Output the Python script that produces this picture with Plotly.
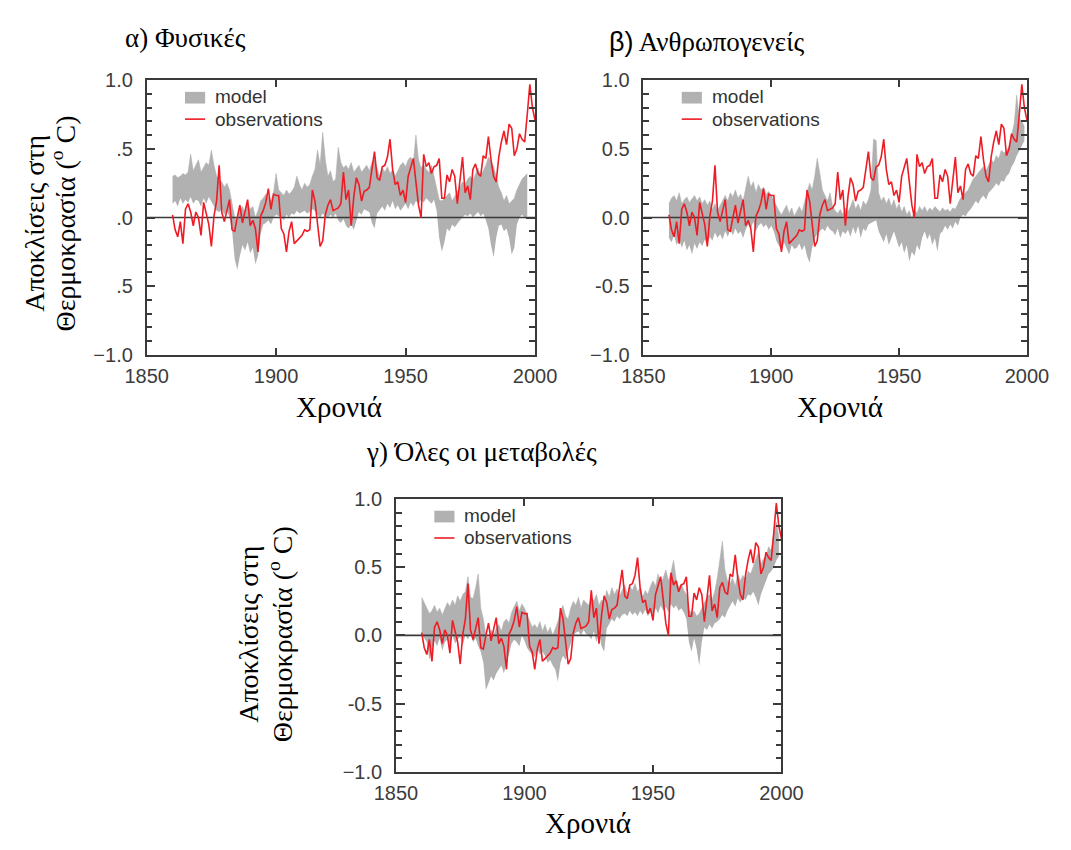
import plotly.graph_objects as go

# ---------------- data ----------------
obs_years = list(range(1860, 2001))
observations = [
    0.02, -0.09, -0.14, -0.03, -0.19, 0.06, 0.10, 0.04, -0.06, 0.04,
    0.00, -0.13, 0.11, 0.02, -0.05, -0.21, 0.01, 0.12, 0.38, 0.04,
    -0.03, 0.05, 0.13, -0.09, -0.10, 0.00, 0.09, -0.04, 0.04, 0.13,
    -0.06, -0.02, -0.08, -0.25, 0.01, 0.05, 0.11, 0.21, 0.06, 0.17,
    0.16, 0.16, -0.08, -0.12, -0.25, -0.10, -0.03, -0.19, -0.17, -0.15,
    -0.13, -0.09, -0.10, -0.09, 0.20, 0.12, -0.07, -0.21, -0.17, 0.02,
    0.09, 0.13, 0.05, 0.06, 0.07, 0.10, 0.33, 0.13, 0.20, -0.06,
    0.15, 0.29, 0.24, 0.12, 0.19, 0.20, 0.22, 0.35, 0.48, 0.29,
    0.27, 0.37, 0.38, 0.44, 0.57, 0.35, 0.24, 0.26, 0.16, 0.20,
    0.11, 0.30, 0.36, 0.43, 0.26, 0.09, 0.00, 0.46, 0.37, 0.40,
    0.32, 0.37, 0.38, 0.43, 0.14, 0.14, 0.31, 0.26, 0.35, 0.30,
    0.10, 0.26, 0.44, 0.18, 0.23, 0.13, 0.35, 0.39, 0.32, 0.30,
    0.45, 0.43, 0.59, 0.42, 0.30, 0.26, 0.44, 0.55, 0.63, 0.53,
    0.68, 0.65, 0.45, 0.50, 0.61, 0.57, 0.55, 0.75, 0.97, 0.80,
    0.71,
]

# (a) natural forcing model range, 1860-1997
nat_years = list(range(1860, 1998))
nat_low = [
    0.10, 0.12, 0.08, 0.14, 0.10, 0.13, 0.11, 0.15, 0.10, 0.13,
    0.12, 0.08, 0.14, 0.10, 0.15, 0.12, 0.08, 0.05, 0.04, 0.06,
    0.02, 0.05, 0.00, -0.10, -0.30, -0.38, -0.28, -0.20, -0.24, -0.18,
    -0.26, -0.22, -0.34, -0.28, -0.12, -0.05, -0.04, -0.02, -0.05, 0.00,
    0.02, 0.01, 0.00, -0.02, 0.02, 0.00, 0.03, 0.02, 0.05, 0.03,
    0.04, 0.05, 0.03, 0.04, 0.06, 0.05, 0.02, 0.00, 0.03, 0.01,
    0.00, 0.02, 0.00, 0.03, -0.02, -0.04, -0.01, -0.06, -0.08, -0.05,
    -0.09, -0.03, 0.04, 0.02, 0.06, 0.05, 0.04, -0.04, -0.08, 0.03,
    0.06, 0.08, 0.05, 0.10, 0.07, 0.12, 0.06, 0.09, 0.05, 0.08,
    0.10, 0.06, 0.11, 0.08, 0.12, 0.10, 0.13, 0.11, 0.14, 0.12,
    0.10, 0.13, 0.05, -0.15, -0.25, -0.18, -0.08, -0.10, -0.05, -0.07,
    -0.04, -0.02, 0.00, 0.02, 0.01, 0.03, 0.00, 0.02, 0.04, 0.01,
    0.03, -0.02, -0.08, -0.20, -0.29, -0.15, -0.06, -0.05, -0.10, -0.08,
    -0.15, -0.27, -0.22, -0.05, 0.00, 0.02, 0.00, 0.01,
]
nat_high = [
    0.30, 0.31, 0.29, 0.30, 0.32, 0.31, 0.33, 0.46, 0.34, 0.38,
    0.42, 0.33, 0.36, 0.40, 0.38, 0.49, 0.38, 0.30, 0.27, 0.26,
    0.22, 0.25, 0.20, 0.10, 0.00, -0.03, 0.05, 0.08, 0.03, 0.10,
    0.06, 0.08, 0.00, 0.05, 0.12, 0.14, 0.17, 0.15, 0.12, 0.18,
    0.32, 0.20, 0.18, 0.16, 0.20, 0.17, 0.19, 0.22, 0.30, 0.24,
    0.20, 0.25, 0.22, 0.24, 0.30, 0.35, 0.49, 0.38, 0.62, 0.42,
    0.30, 0.34, 0.26, 0.28, 0.51, 0.40, 0.36, 0.38, 0.35, 0.40,
    0.33, 0.36, 0.38, 0.33, 0.36, 0.38, 0.34, 0.40, 0.42, 0.35,
    0.30, 0.36, 0.33, 0.37, 0.32, 0.35, 0.30, 0.34, 0.38, 0.40,
    0.37, 0.42, 0.44, 0.40, 0.60, 0.42, 0.36, 0.39, 0.35, 0.33,
    0.38, 0.30, 0.22, 0.13, 0.12, 0.14, 0.16, 0.18, 0.12, 0.15,
    0.18, 0.22, 0.26, 0.24, 0.28, 0.30, 0.27, 0.32, 0.36, 0.30,
    0.34, 0.38, 0.44, 0.40, 0.37, 0.30, 0.22, 0.18, 0.12, 0.16,
    0.10, 0.12, 0.14, 0.20, 0.24, 0.28, 0.30, 0.32,
]

# (b) anthropogenic forcing model range, 1860-1999
ant_years = list(range(1860, 2000))
ant_low = [
    -0.15, -0.18, -0.13, -0.20, -0.16, -0.22, -0.17, -0.24, -0.20, -0.27,
    -0.19, -0.23, -0.18, -0.21, -0.16, -0.20, -0.14, -0.17, -0.11, -0.15,
    -0.12, -0.16, -0.10, -0.14, -0.09, -0.13, -0.08, -0.12, -0.10, -0.15,
    -0.09, -0.05, -0.08, -0.03, -0.10, -0.06, -0.04, -0.07, -0.05, -0.09,
    -0.06, -0.10, -0.17, -0.20, -0.24, -0.18, -0.22, -0.27, -0.20, -0.23,
    -0.22, -0.19, -0.24, -0.20, -0.28, -0.33, -0.22, -0.15, -0.12, -0.10,
    -0.08, -0.10, -0.06, -0.09, -0.10, -0.13, -0.08, -0.15, -0.10, -0.12,
    -0.09, -0.14, -0.07, -0.12, -0.06, -0.15, -0.08, -0.10, -0.05, -0.04,
    -0.03, -0.02, -0.10, -0.14, -0.18, -0.12, -0.20, -0.15, -0.10, -0.16,
    -0.22, -0.18, -0.26, -0.20, -0.32, -0.25, -0.28, -0.20, -0.24, -0.15,
    -0.10, -0.16, -0.12, -0.20, -0.15, -0.25, -0.12, -0.10, -0.06, -0.09,
    -0.05, -0.08, -0.03, -0.06, 0.00, 0.02, 0.01, 0.04, 0.06, 0.09,
    0.12, 0.10, 0.14, 0.16, 0.13, 0.18, 0.20, 0.22, 0.25, 0.23,
    0.27, 0.26, 0.30, 0.32, 0.37, 0.40, 0.45, 0.48, 0.52, 0.56,
]
ant_high = [
    0.10, 0.14, 0.16, 0.12, 0.18, 0.10, 0.13, 0.15, 0.11, 0.14,
    0.16, 0.12, 0.15, 0.10, 0.13, 0.09, 0.12, 0.06, 0.10, 0.05,
    0.09, 0.13, 0.16, 0.12, 0.18, 0.15, 0.20, 0.14, 0.17, 0.12,
    0.20, 0.30, 0.22, 0.26, 0.18, 0.24, 0.20, 0.22, 0.17, 0.19,
    0.16, 0.12, 0.08, 0.05, 0.02, 0.06, 0.09, 0.03, 0.07, 0.01,
    0.05, 0.08, 0.04, 0.12, 0.18, 0.25, 0.20, 0.30, 0.43, 0.32,
    0.20, 0.16, 0.12, 0.18, 0.08, 0.05, 0.03, 0.06, 0.02, 0.07,
    0.04, 0.08, 0.13, 0.06, 0.10, 0.05, 0.12, 0.09, 0.13, 0.20,
    0.57, 0.56, 0.18, 0.12, 0.15, 0.10, 0.14, 0.08, 0.13, 0.06,
    0.10, 0.04, 0.08, 0.02, 0.05, -0.01, 0.06, 0.03, 0.08, 0.05,
    0.08, 0.04, 0.07, 0.05, 0.08, 0.06, 0.04, 0.07, 0.05, 0.06,
    0.04, 0.07, 0.06, 0.10, 0.14, 0.16, 0.18, 0.20, 0.24, 0.28,
    0.30, 0.33, 0.35, 0.37, 0.34, 0.38, 0.42, 0.40, 0.45, 0.43,
    0.49, 0.47, 0.48, 0.52, 0.60, 0.68, 0.89, 0.72, 0.70, 0.66,
]

# (c) all forcings model range, 1860-1999
all_years = list(range(1860, 2000))
all_low = [
    0.00, -0.02, -0.05, -0.18, -0.10, -0.04, -0.08, -0.02, -0.11, -0.05,
    -0.03, -0.08, 0.00, -0.06, -0.03, -0.01, -0.07, 0.00, -0.03, 0.01,
    -0.05, -0.02, -0.08, -0.12, -0.20, -0.40, -0.35, -0.30, -0.33, -0.28,
    -0.25, -0.22, -0.28, -0.20, -0.14, -0.06, -0.03, -0.05, -0.08, 0.00,
    -0.04, -0.09, -0.12, -0.14, -0.16, -0.10, -0.14, -0.12, -0.15, -0.20,
    -0.18, -0.22, -0.25, -0.34, -0.20, -0.15, -0.18, -0.12, -0.05, 0.00,
    0.02, 0.03, 0.00, 0.04, 0.01, 0.00, -0.03, 0.03, -0.05, 0.02,
    -0.08, -0.12, 0.05, 0.09, 0.12, 0.10, 0.14, 0.12, 0.15, 0.16,
    0.14, 0.18, 0.15, 0.17, 0.14, 0.18, 0.15, 0.19, 0.14, 0.17,
    0.15, 0.20, 0.16, 0.22, 0.18, 0.21, 0.17, 0.23, 0.20, 0.22,
    0.18, 0.20, 0.17, 0.12, -0.05, -0.12, -0.02, -0.10, -0.22, -0.05,
    0.06, 0.04, 0.08, 0.05, 0.09, 0.10, 0.12, 0.15, 0.13, 0.18,
    0.22, 0.25, 0.21, 0.27, 0.24, 0.28, 0.26, 0.30, 0.29, 0.32,
    0.28, 0.22, 0.30, 0.35, 0.40, 0.45, 0.47, 0.50, 0.55, 0.58,
]
all_high = [
    0.28, 0.24, 0.20, 0.16, 0.18, 0.22, 0.17, 0.20, 0.15, 0.19,
    0.24, 0.21, 0.26, 0.22, 0.29, 0.25, 0.30, 0.32, 0.43, 0.28,
    0.27, 0.35, 0.45, 0.20, 0.12, 0.00, -0.02, 0.04, 0.00, 0.05,
    0.08, 0.03, 0.10, 0.12, 0.09, 0.17, 0.21, 0.25, 0.18, 0.23,
    0.20, 0.15, 0.10, 0.06, 0.08, 0.05, 0.10, 0.03, 0.08, 0.02,
    0.06, 0.00, 0.05, 0.10, 0.18, 0.22, 0.14, 0.12, 0.20, 0.25,
    0.22, 0.28, 0.20, 0.26, 0.24, 0.22, 0.28, 0.25, 0.30, 0.22,
    0.26, 0.24, 0.33, 0.28, 0.35, 0.30, 0.34, 0.29, 0.33, 0.37,
    0.30, 0.36, 0.33, 0.38, 0.32, 0.35, 0.28, 0.33, 0.30, 0.36,
    0.40, 0.36, 0.45, 0.38, 0.42, 0.48, 0.40, 0.46, 0.55, 0.42,
    0.35, 0.38, 0.33, 0.30, 0.19, 0.16, 0.18, 0.14, 0.16, 0.20,
    0.24, 0.28, 0.30, 0.26, 0.32, 0.42, 0.55, 0.69, 0.48, 0.40,
    0.38, 0.42, 0.36, 0.45, 0.40, 0.44, 0.41, 0.47, 0.45, 0.50,
    0.55, 0.61, 0.52, 0.56, 0.58, 0.65, 0.62, 0.75, 0.83, 0.72,
]

SANS = "Liberation Sans, Arial, sans-serif"
SERIF = "Liberation Serif, Times New Roman, serif"

panel_titles = [
    "α) Φυσικές",
    f"<span style='font-family:{SANS}'>β)</span> Ανθρωπογενείς",
    "γ) Όλες οι μεταβολές",
]
x_title = "Χρονιά"
y_title_lines = ["Αποκλίσεις στη", "Θερμοκρασία (<sup>o</sup> C)"]
legend_labels = ["model", "observations"]
x_tickvals = [1850, 1900, 1950, 2000]
y_tickvals = [-1.0, -0.5, 0.0, 0.5, 1.0]
y_ticktext_a = ["−1.0", ".5", ".0", ".5", "1.0"]
y_ticktext_bc = ["−1.0", "-0.5", "0.0", "0.5", "1.0"]
X_RANGE = [1850, 2000]
Y_RANGE = [-1.0, 1.0]

# ---------------- style ----------------
W, H = 1071, 850
GRAY = "#b1b1b1"
RED = "#ee1c25"
AXC = "#3a3a3a"


def px_x(p):
    return p / W


def px_y(p):
    return 1 - p / H


# plot boxes in pixels (left, right, top, bottom)
boxes = [(130, 535, 71, 353), (648, 1048, 71, 353), (390, 792, 501, 781)]
bands = [(nat_years, nat_low, nat_high), (ant_years, ant_low, ant_high),
         (all_years, all_low, all_high)]

fig = go.Figure()

for i, (yrs, lo, hi) in enumerate(bands):
    xa = "x" if i == 0 else f"x{i+1}"
    ya = "y" if i == 0 else f"y{i+1}"
    fig.add_trace(go.Scatter(x=yrs, y=lo, mode="lines", line=dict(width=0, color=GRAY),
                             xaxis=xa, yaxis=ya, showlegend=False, hoverinfo="skip"))
    fig.add_trace(go.Scatter(x=yrs, y=hi, mode="lines", line=dict(width=0.6, color=GRAY),
                             fill="tonexty", fillcolor=GRAY,
                             xaxis=xa, yaxis=ya, showlegend=False, hoverinfo="skip"))
    # zero reference line
    fig.add_trace(go.Scatter(x=X_RANGE, y=[0, 0], mode="lines", line=dict(width=1.6, color=AXC),
                             xaxis=xa, yaxis=ya, showlegend=False, hoverinfo="skip"))
    fig.add_trace(go.Scatter(x=obs_years, y=observations, mode="lines",
                             line=dict(width=1.6, color=RED),
                             xaxis=xa, yaxis=ya, showlegend=False, hoverinfo="skip"))

layout = dict(
    width=W, height=H, margin=dict(l=0, r=0, t=0, b=0),
    paper_bgcolor="white", plot_bgcolor="white", showlegend=False,
)

for i, (l, r, t, b) in enumerate(boxes):
    xk = "xaxis" if i == 0 else f"xaxis{i+1}"
    yk = "yaxis" if i == 0 else f"yaxis{i+1}"
    ya_name = "y" if i == 0 else f"y{i+1}"
    xa_name = "x" if i == 0 else f"x{i+1}"
    layout[xk] = dict(
        domain=[px_x(l), px_x(r)], range=X_RANGE, anchor=ya_name,
        tickvals=x_tickvals, ticks="inside", ticklen=7, tickwidth=1.5, tickcolor=AXC,
        showline=True, linecolor=AXC, linewidth=1.6, mirror="ticks",
        showgrid=False, zeroline=False, ticklabelstandoff=2,
        tickfont=dict(family=SANS, size=20, color="#3c3c3c"),
    )
    layout[yk] = dict(
        domain=[px_y(b), px_y(t)], range=Y_RANGE, anchor=xa_name,
        tickvals=y_tickvals, ticktext=(y_ticktext_a if i == 0 else y_ticktext_bc),
        ticks="inside", ticklen=9, tickwidth=1.5, tickcolor=AXC,
        minor=dict(dtick=0.1, tick0=0, ticks="inside", ticklen=6, tickwidth=1.5, tickcolor=AXC),
        showline=True, linecolor=AXC, linewidth=1.6, mirror="ticks",
        showgrid=False, zeroline=False, ticklabelstandoff=8,
        tickfont=dict(family=SANS, size=20, color="#3c3c3c"),
    )

fig.update_layout(**layout)

annotations = []
shapes = []
# panel titles
title_pos = [(171, 28), (714, 32), (479, 453)]
for txt, (cx, cy) in zip(panel_titles, title_pos):
    annotations.append(dict(text=txt, x=px_x(cx), y=px_y(cy), xref="paper", yref="paper",
                            xanchor="center", yanchor="middle", showarrow=False,
                            font=dict(family=SERIF, size=27, color="black")))
# x titles
xt_pos = [(331, 407), (853, 407), (590, 834)]
for (cx, cy) in xt_pos:
    annotations.append(dict(text=x_title, x=px_x(cx), y=px_y(cy), xref="paper", yref="paper",
                            xanchor="center", yanchor="middle", showarrow=False,
                            font=dict(family=SERIF, size=29, color="black")))
# y titles (panels a and c), one annotation per line
yt_pos = [((13, 43), 218), ((236, 270), 640)]
for (cxs, cy) in yt_pos:
    for line_txt, cx in zip(y_title_lines, cxs):
        annotations.append(dict(text=line_txt, x=px_x(cx), y=px_y(cy), xref="paper", yref="paper",
                                xanchor="center", yanchor="middle", showarrow=False,
                                textangle=-90,
                                font=dict(family=SERIF, size=28, color="black")))

# legends inside each panel
for i, (l, r, t, b) in enumerate(boxes):
    xa_name = "x" if i == 0 else f"x{i+1}"
    ya_name = "y" if i == 0 else f"y{i+1}"
    w, h = r - l, b - t
    gx0, gx1 = 40 / w, 61 / w
    shapes.append(dict(type="rect", xref=f"{xa_name} domain", yref=f"{ya_name} domain",
                       x0=gx0, x1=gx1, y0=1 - 24 / h, y1=1 - 12 / h,
                       fillcolor=GRAY, line=dict(width=0)))
    shapes.append(dict(type="line", xref=f"{xa_name} domain", yref=f"{ya_name} domain",
                       x0=gx0, x1=gx1, y0=1 - 40 / h, y1=1 - 40 / h,
                       line=dict(color=RED, width=1.6)))
    for lab, dy in zip(legend_labels, [17, 40]):
        annotations.append(dict(text=lab, x=69 / w, y=1 - dy / h,
                                xref=f"{xa_name} domain", yref=f"{ya_name} domain",
                                xanchor="left", yanchor="middle", showarrow=False,
                                font=dict(family=SANS, size=19, color="#333333")))

fig.update_layout(annotations=annotations, shapes=shapes)
fig.write_html("out.html")
